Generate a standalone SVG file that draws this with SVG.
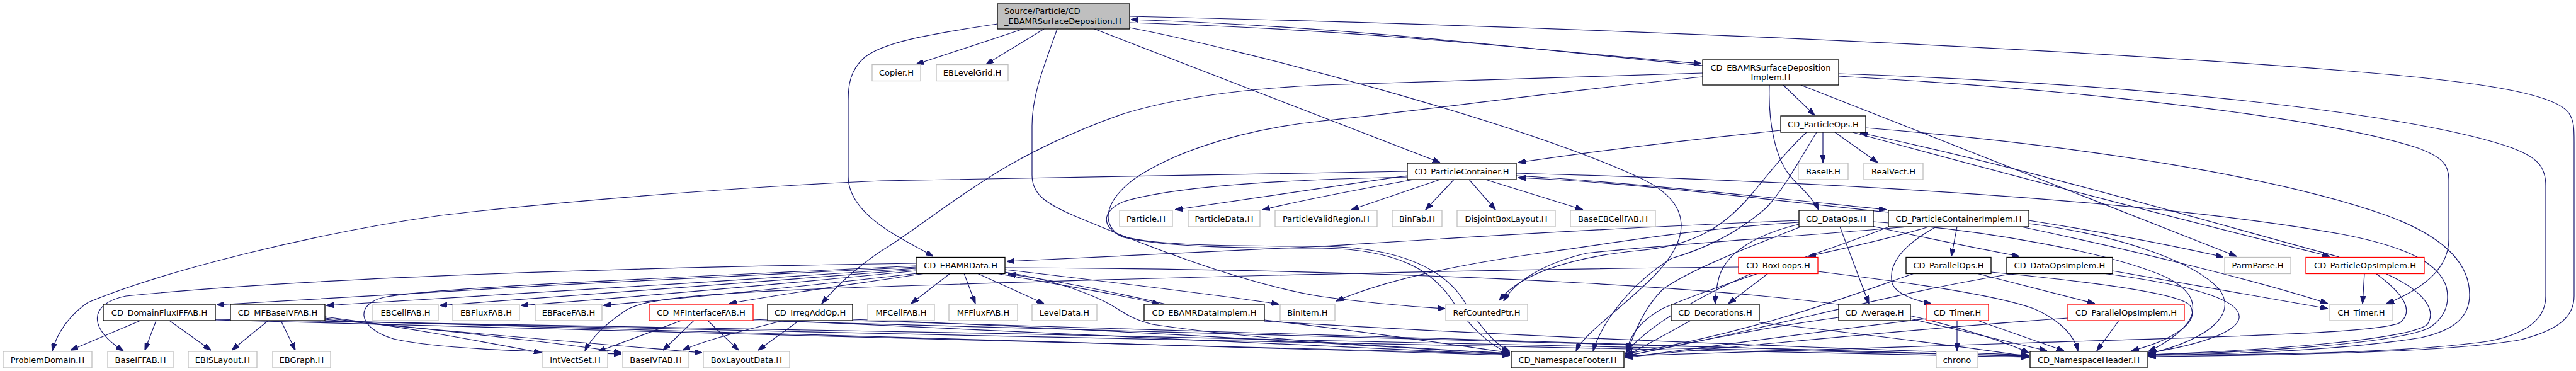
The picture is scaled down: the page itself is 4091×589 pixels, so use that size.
<svg xmlns="http://www.w3.org/2000/svg" width="4091" height="589" viewBox="0 0 4091 589">
<style>
.b{fill:#fff;stroke:#000;stroke-width:1.3}
.g{fill:#fff;stroke:#bfbfbf;stroke-width:1.3}
.r{fill:#fff;stroke:#ff0000;stroke-width:1.3}
.rt{fill:#bfbfbf;stroke:#000;stroke-width:1.3}
text{font-family:"DejaVu Sans","Liberation Sans",sans-serif;font-size:13px;fill:#000;text-anchor:middle}
.l{text-anchor:start}
#edges path{fill:none;stroke:#191970;stroke-width:1.2;marker-end:url(#ah)}
</style>
<defs>
<marker id="ah" viewBox="0 0 10 7" refX="10" refY="3.5" markerWidth="12" markerHeight="8.4" markerUnits="userSpaceOnUse" orient="auto">
<path d="M0,0 L10,3.5 L0,7 z" fill="#191970" stroke="#191970"/>
</marker>
</defs>
<rect width="4091" height="589" fill="#fff"/>
<g id="edges">
<path d="M1625,46 L1455,102"/>
<path d="M1658,46 L1566,102"/>
<path d="M1584,38 C1470,55 1400,68 1372,92 C1350,112 1347,135 1347,160 L1347,280 C1347,315 1375,345 1420,372 C1445,387 1465,397 1482,407"/>
<path d="M1679,46 C1658,105 1639,150 1639,200 L1639,278 C1639,308 1660,322 1700,340 C1830,395 1980,452 2100,471 C2180,482 2245,487 2295,490"/>
<path d="M1738,46 L2287,258"/>
<path d="M1794,44 C1960,75 2420,195 2610,285 C2690,325 2685,380 2625,440 C2575,490 2515,530 2503,557"/>
<path d="M1794,36 C2200,48 2500,86 2702,101"/>
<path d="M2704,104 C2480,84 2180,44 1796,31"/>
<path d="M1794,26 C2500,42 3250,75 3720,112 C3950,130 4060,150 4080,180 C4088,192 4088,205 4088,225 L4088,470 C4088,505 4060,525 4000,540 C3880,560 3620,564 3412,566"/>
<path d="M2832,135 L2882,183"/>
<path d="M2810,135 C2808,190 2818,255 2848,285 C2868,305 2882,320 2888,333"/>
<path d="M2860,135 L3552,407"/>
<path d="M2920,121 C3350,145 3700,190 3840,235 C3880,250 3889,262 3889,285 L3889,380 C3889,430 3840,462 3790,482"/>
<path d="M2920,117 C3450,135 3850,185 3990,235 C4030,250 4043,265 4043,295 L4043,470 C4043,510 4005,532 3950,542 C3820,560 3620,563 3412,564"/>
<path d="M2704,116 L2100,135 C1950,142 1850,160 1780,182 C1700,210 1630,245 1583,274 C1500,325 1450,368 1400,398 C1360,425 1330,452 1305,482"/>
<path d="M2704,122 C2500,142 2220,180 2100,192 C1950,208 1850,250 1800,285 C1755,320 1750,352 1775,372 C1810,388 1920,391 2100,391 C2230,393 2290,430 2320,470 C2345,510 2370,545 2398,558"/>
<path d="M2235,272 C1900,276 1600,283 1400,287 C1100,300 800,330 700,342 C500,370 260,430 140,480 C110,500 90,530 83,557"/>
<path d="M2235,279 C2100,298 1960,320 1866,333"/>
<path d="M2245,285 C2150,302 2060,320 2005,333"/>
<path d="M2287,285 L2146,333"/>
<path d="M2309,285 L2264,333"/>
<path d="M2333,285 L2375,333"/>
<path d="M2359,285 L2514,333"/>
<path d="M2408,279 C2600,290 2850,318 2996,333"/>
<path d="M2999,337 C2850,322 2600,290 2411,282"/>
<path d="M2408,275 C2900,288 3420,318 3720,372 C3840,395 3875,425 3885,455 C3892,485 3880,508 3855,522 C3790,548 3560,560 3412,563"/>
<path d="M2235,281 C2000,286 1850,300 1785,320 C1748,335 1748,362 1785,377 C1850,392 1960,394 2100,394 C2225,396 2275,432 2305,475 C2330,515 2365,548 2396,561"/>
<path d="M2828,207 C2650,225 2500,245 2411,258"/>
<path d="M2895,210 L2895,258"/>
<path d="M2914,210 L2982,258"/>
<path d="M2942,210 C3200,280 3500,358 3700,407"/>
<path d="M3715,408 C3500,350 3200,262 2954,211"/>
<path d="M2963,203 C3320,232 3620,282 3790,342 C3900,382 3922,430 3922,468 C3922,505 3895,525 3845,536 C3720,556 3560,562 3412,564"/>
<path d="M2869,210 C2835,242 2812,272 2782,308 C2745,352 2700,390 2600,398 C2480,410 2410,440 2381,477"/>
<path d="M2885,210 C2860,250 2835,298 2805,330 C2750,378 2690,400 2655,410 C2590,450 2545,510 2530,557"/>
<path d="M2857,350 C2500,364 2200,385 2100,391 C1900,400 1700,410 1599,415"/>
<path d="M2857,356 C2790,372 2742,400 2730,440 C2725,460 2724,470 2724,482"/>
<path d="M2922,360 L2968,482"/>
<path d="M2973,359 C3050,376 3150,396 3207,407"/>
<path d="M2857,353 C2700,362 2560,386 2460,400 C2310,420 2200,445 2122,478"/>
<path d="M2860,360 C2770,395 2680,430 2640,460 C2610,490 2595,530 2585,557"/>
<path d="M2975,352 C3150,365 3350,400 3440,440 C3475,458 3485,475 3482,495 C3478,520 3440,545 3412,558"/>
<path d="M3063,360 C3000,380 2920,396 2872,407"/>
<path d="M3108,360 L3099,407"/>
<path d="M3075,360 C3020,390 2998,420 3005,450 C3012,468 3045,478 3067,482"/>
<path d="M3210,360 C3400,400 3600,450 3697,482"/>
<path d="M3222,350 C3350,370 3460,392 3531,408"/>
<path d="M3222,355 C3380,375 3490,420 3525,460 C3550,495 3520,535 3412,562"/>
<path d="M3000,360 C2900,400 2720,455 2640,490 C2605,510 2590,530 2583,557"/>
<path d="M3030,360 C2820,378 2620,390 2520,402 C2450,418 2405,448 2388,478"/>
<path d="M3139,434 L3327,482"/>
<path d="M3162,432 C3350,450 3465,468 3478,485 C3495,512 3450,540 3385,557"/>
<path d="M3040,434 C2950,465 2800,525 2581,562"/>
<path d="M3355,430 C3500,455 3600,472 3697,490"/>
<path d="M3340,434 C3500,455 3560,480 3556,505 C3552,530 3480,550 3412,560"/>
<path d="M3200,434 C3000,465 2800,525 2581,565"/>
<path d="M2808,434 L2745,482"/>
<path d="M2761,424 C2300,428 1800,442 1400,455 C1100,465 1025,475 995,492 C965,512 940,535 929,557"/>
<path d="M2887,431 C3000,445 3160,465 3230,490 C3275,510 3295,535 3300,557"/>
<path d="M2782,434 C2700,470 2620,515 2582,560"/>
<path d="M2685,509 L2581,566"/>
<path d="M2794,512 C3000,535 3150,555 3222,566"/>
<path d="M3034,506 L3251,557"/>
<path d="M2920,504 C2800,520 2650,550 2581,566"/>
<path d="M3108,509 L3108,557"/>
<path d="M3141,509 L3278,557"/>
<path d="M3059,506 C2900,525 2700,552 2581,568"/>
<path d="M3365,509 L3330,557"/>
<path d="M3284,505 C3000,525 2800,548 2581,566"/>
<path d="M3755,434 L3752,482"/>
<path d="M3773,434 C3822,470 3832,495 3812,512 C3780,530 3500,535 3200,545 C2900,555 2700,562 2581,565"/>
<path d="M3788,434 C3850,462 3870,492 3855,515 C3825,540 3600,556 3412,563"/>
<path d="M1582,434 C1700,455 1790,470 1842,483"/>
<path d="M1852,483 C1780,466 1680,446 1601,435"/>
<path d="M2008,508 C2200,530 2310,548 2398,560"/>
<path d="M2008,510 C2500,540 3000,555 3222,564"/>
<path d="M1455,424 C1100,440 700,462 344,484"/>
<path d="M1455,426 C1150,445 800,470 518,485"/>
<path d="M1455,428 C1200,447 900,472 698,485"/>
<path d="M1455,430 C1250,450 1000,472 827,485"/>
<path d="M1457,434 C1300,452 1100,472 958,485"/>
<path d="M1470,434 C1350,452 1250,465 1158,482"/>
<path d="M1509,434 L1447,482"/>
<path d="M1531,434 L1549,482"/>
<path d="M1552,434 L1658,482"/>
<path d="M1596,428 C1800,452 1950,470 2031,483"/>
<path d="M1455,418 C1000,425 500,440 200,470 C140,482 140,522 196,557"/>
<path d="M1455,422 C1100,440 700,455 610,472 C565,482 565,520 625,538 C700,555 850,558 987,562"/>
<path d="M1596,432 C1680,445 1740,470 1766,485 C1790,500 1800,507 1830,515 C2000,540 2200,550 2398,561"/>
<path d="M1596,425 C2300,428 2850,460 3050,505 C3150,530 3200,550 3222,560"/>
<path d="M426,509 L368,556"/>
<path d="M446,509 L469,556"/>
<path d="M516,503 C650,520 780,545 860,560"/>
<path d="M516,505 C700,525 900,545 987,560"/>
<path d="M516,507 C750,530 1000,550 1115,560"/>
<path d="M516,509 C1000,525 1800,545 2398,564"/>
<path d="M516,510 C1400,530 2600,555 3222,567"/>
<path d="M223,509 L112,556"/>
<path d="M248,509 L230,556"/>
<path d="M269,509 L335,556"/>
<path d="M342,508 C900,525 1800,545 2398,562"/>
<path d="M342,507 C1200,520 2600,550 3222,565"/>
<path d="M1082,509 L950,558"/>
<path d="M1102,509 L1053,556"/>
<path d="M1124,509 L1173,556"/>
<path d="M1196,507 C1600,525 2000,545 2398,563"/>
<path d="M1196,509 C2000,530 2800,550 3222,565"/>
<path d="M1244,509 C1180,525 1120,540 1084,556"/>
<path d="M1269,509 L1204,556"/>
<path d="M1354,507 C1800,525 2100,545 2398,562"/>
<path d="M1354,509 C2200,530 2800,555 3222,566"/>
</g>
<g id="n_root"><rect class="rt" x="1584" y="6" width="210" height="40"/><text class="l" x="1595" y="22">Source/Particle/CD</text><text class="l" x="1595" y="38">_EBAMRSurfaceDeposition.H</text></g>
<g id="n_copier"><rect class="g" x="1385" y="102.5" width="77" height="26"/><text x="1423.5" y="120">Copier.H</text></g>
<g id="n_eblg"><rect class="g" x="1487" y="102.5" width="114" height="26"/><text x="1544" y="120">EBLevelGrid.H</text></g>
<g id="n_sdi"><rect class="b" x="2704" y="95" width="216" height="40"/><text x="2812" y="112">CD_EBAMRSurfaceDeposition</text><text x="2812" y="127">Implem.H</text></g>
<g id="n_po"><rect class="b" x="2828" y="184" width="135" height="26"/><text x="2895.5" y="201.5">CD_ParticleOps.H</text></g>
<g id="n_pc"><rect class="b" x="2235" y="259" width="173" height="26"/><text x="2321.5" y="276.5">CD_ParticleContainer.H</text></g>
<g id="n_baseif"><rect class="g" x="2856" y="259" width="79" height="26"/><text x="2895.5" y="276.5">BaseIF.H</text></g>
<g id="n_realvect"><rect class="g" x="2960" y="259" width="94" height="26"/><text x="3007" y="276.5">RealVect.H</text></g>
<g id="n_particle"><rect class="g" x="1778" y="334" width="84" height="26"/><text x="1820" y="351.5">Particle.H</text></g>
<g id="n_pdata"><rect class="g" x="1887" y="334" width="114" height="26"/><text x="1944" y="351.5">ParticleData.H</text></g>
<g id="n_pvr"><rect class="g" x="2025" y="334" width="162" height="26"/><text x="2106" y="351.5">ParticleValidRegion.H</text></g>
<g id="n_binfab"><rect class="g" x="2211" y="334" width="79" height="26"/><text x="2250.5" y="351.5">BinFab.H</text></g>
<g id="n_dbl"><rect class="g" x="2314" y="334" width="156" height="26"/><text x="2392" y="351.5">DisjointBoxLayout.H</text></g>
<g id="n_baseeb"><rect class="g" x="2494" y="334" width="135" height="26"/><text x="2561.5" y="351.5">BaseEBCellFAB.H</text></g>
<g id="n_dataops"><rect class="b" x="2857" y="334" width="118" height="26"/><text x="2916" y="351.5">CD_DataOps.H</text></g>
<g id="n_pci"><rect class="b" x="2999" y="334" width="223" height="26"/><text x="3110.5" y="351.5">CD_ParticleContainerImplem.H</text></g>
<g id="n_ebamrdata"><rect class="b" x="1455" y="408.5" width="141" height="26"/><text x="1525.5" y="426">CD_EBAMRData.H</text></g>
<g id="n_boxloops"><rect class="r" x="2761" y="408.5" width="126" height="26"/><text x="2824" y="426">CD_BoxLoops.H</text></g>
<g id="n_parops"><rect class="b" x="3027" y="408.5" width="135" height="26"/><text x="3094.5" y="426">CD_ParallelOps.H</text></g>
<g id="n_doi"><rect class="b" x="3187" y="408.5" width="168" height="26"/><text x="3271" y="426">CD_DataOpsImplem.H</text></g>
<g id="n_parmparse"><rect class="g" x="3533" y="408.5" width="105" height="26"/><text x="3585.5" y="426">ParmParse.H</text></g>
<g id="n_poi"><rect class="r" x="3662" y="408.5" width="188" height="26"/><text x="3756" y="426">CD_ParticleOpsImplem.H</text></g>
<g id="n_dfi"><rect class="b" x="164" y="483" width="178" height="26"/><text x="253" y="500.5">CD_DomainFluxIFFAB.H</text></g>
<g id="n_mfbivfab"><rect class="b" x="366" y="483" width="150" height="26"/><text x="441" y="500.5">CD_MFBaseIVFAB.H</text></g>
<g id="n_ebcellfab"><rect class="g" x="592" y="483" width="104" height="26"/><text x="644" y="500.5">EBCellFAB.H</text></g>
<g id="n_ebfluxfab"><rect class="g" x="719" y="483" width="106" height="26"/><text x="772" y="500.5">EBFluxFAB.H</text></g>
<g id="n_ebfacefab"><rect class="g" x="850" y="483" width="106" height="26"/><text x="903" y="500.5">EBFaceFAB.H</text></g>
<g id="n_mfifab"><rect class="r" x="1031" y="483" width="165" height="26"/><text x="1113.5" y="500.5">CD_MFInterfaceFAB.H</text></g>
<g id="n_irreg"><rect class="b" x="1219" y="483" width="135" height="26"/><text x="1286.5" y="500.5">CD_IrregAddOp.H</text></g>
<g id="n_mfcell"><rect class="g" x="1378" y="483" width="106" height="26"/><text x="1431" y="500.5">MFCellFAB.H</text></g>
<g id="n_mfflux"><rect class="g" x="1507" y="483" width="109" height="26"/><text x="1561.5" y="500.5">MFFluxFAB.H</text></g>
<g id="n_leveldata"><rect class="g" x="1639" y="483" width="103" height="26"/><text x="1690.5" y="500.5">LevelData.H</text></g>
<g id="n_edi"><rect class="b" x="1817" y="483" width="191" height="26"/><text x="1912.5" y="500.5">CD_EBAMRDataImplem.H</text></g>
<g id="n_binitem"><rect class="g" x="2033" y="483" width="87" height="26"/><text x="2076.5" y="500.5">BinItem.H</text></g>
<g id="n_refptr"><rect class="g" x="2296" y="483" width="130" height="26"/><text x="2361" y="500.5">RefCountedPtr.H</text></g>
<g id="n_deco"><rect class="b" x="2654" y="483" width="140" height="26"/><text x="2724" y="500.5">CD_Decorations.H</text></g>
<g id="n_average"><rect class="b" x="2920" y="483" width="114" height="26"/><text x="2977" y="500.5">CD_Average.H</text></g>
<g id="n_timer"><rect class="r" x="3059" y="483" width="99" height="26"/><text x="3108.5" y="500.5">CD_Timer.H</text></g>
<g id="n_popsi"><rect class="r" x="3284" y="483" width="185" height="26"/><text x="3376.5" y="500.5">CD_ParallelOpsImplem.H</text></g>
<g id="n_chtimer"><rect class="g" x="3700" y="483" width="100" height="26"/><text x="3750" y="500.5">CH_Timer.H</text></g>
<g id="n_probdom"><rect class="g" x="5" y="558" width="141" height="26"/><text x="75.5" y="575.5">ProblemDomain.H</text></g>
<g id="n_baseiffab"><rect class="g" x="171" y="558" width="104" height="26"/><text x="223" y="575.5">BaseIFFAB.H</text></g>
<g id="n_ebislayout"><rect class="g" x="299" y="558" width="109" height="26"/><text x="353.5" y="575.5">EBISLayout.H</text></g>
<g id="n_ebgraph"><rect class="g" x="433" y="558" width="92" height="26"/><text x="479" y="575.5">EBGraph.H</text></g>
<g id="n_ivs"><rect class="g" x="862" y="558" width="103" height="26"/><text x="913.5" y="575.5">IntVectSet.H</text></g>
<g id="n_baseivfab"><rect class="g" x="989" y="558" width="105" height="26"/><text x="1041.5" y="575.5">BaseIVFAB.H</text></g>
<g id="n_bld"><rect class="g" x="1117" y="558" width="137" height="26"/><text x="1185.5" y="575.5">BoxLayoutData.H</text></g>
<g id="n_nsfooter"><rect class="b" x="2400" y="558" width="179" height="26"/><text x="2489.5" y="575.5">CD_NamespaceFooter.H</text></g>
<g id="n_chrono"><rect class="g" x="3075" y="558" width="66" height="26"/><text x="3108" y="575.5">chrono</text></g>
<g id="n_nsheader"><rect class="b" x="3224" y="558" width="186" height="26"/><text x="3317" y="575.5">CD_NamespaceHeader.H</text></g>
</svg>
